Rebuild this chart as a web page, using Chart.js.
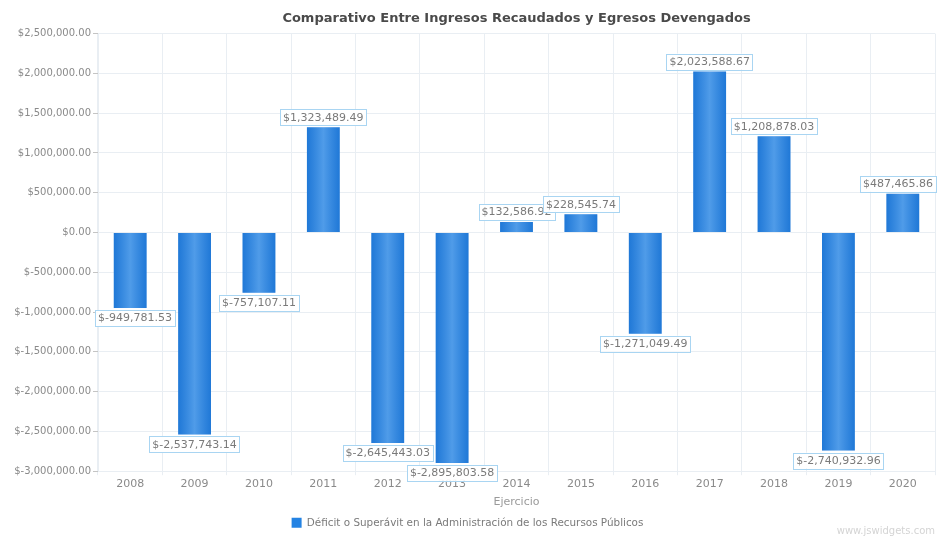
<!DOCTYPE html>
<html>
<head>
<meta charset="utf-8">
<script src="https://cdn.jsdelivr.net/npm/chart.js@4/dist/chart.umd.min.js"></script>
<style>
  html, body { margin: 0; padding: 0; background: #fff; }
  #wrap { position: relative; width: 937px; height: 538px; }
</style>
</head>
<body>
<div id="wrap"><canvas id="c"></canvas></div>
<script>
const years = ['2008', '2009', '2010', '2011', '2012', '2013', '2014', '2015', '2016', '2017', '2018', '2019', '2020'];
const balance = [-949781.53, -2537743.14, -757107.11, 1323489.49, -2645443.03, -2895803.58, 132586.92, 228545.74, -1271049.49, 2023588.67, 1208878.03, -2740932.96, 487465.86];
const seriesName = 'Déficit o Superávit en la Administración de los Recursos Públicos';
const yMin = -3000000, yMax = 2500000, yStep = 500000;

const FONT = "'DejaVu Sans', Verdana, sans-serif";
const money = v => '$' + v.toLocaleString('en-US', { minimumFractionDigits: 2, maximumFractionDigits: 2 });

// cylinder-ish shine over each bar, plus the boxed value labels
const barLabels = {
  id: 'barLabels',
  afterDatasetsDraw(chart) {
    const ctx = chart.ctx;
    const meta = chart.getDatasetMeta(0);
    ctx.save();
    meta.data.forEach(el => {
      const { x, y, base, width } = el.getProps(['x', 'y', 'base', 'width'], true);
      const left = x - width / 2, top = Math.min(y, base), h = Math.abs(base - y);
      const g = ctx.createLinearGradient(left, 0, left + width, 0);
      g.addColorStop(0, 'rgba(10,70,160,0.18)');
      g.addColorStop(0.5, 'rgba(255,255,255,0.2)');
      g.addColorStop(1, 'rgba(10,70,160,0.18)');
      ctx.fillStyle = g;
      ctx.fillRect(left, top, width, h);
    });

    ctx.font = '11px ' + FONT;
    ctx.textBaseline = 'middle';
    ctx.textAlign = 'center';
    meta.data.forEach((el, i) => {
      const v = balance[i];
      const txt = money(v);
      const w = ctx.measureText(txt).width + 6;
      const h = 16;
      let cx = el.x;
      cx = Math.max(cx, w / 2 - 3 + chart.chartArea.left);
      cx = Math.min(cx, chart.width - w / 2 - 1);
      const top = v < 0 ? el.y + 2 : el.y - 2 - h;
      ctx.fillStyle = 'rgba(255,255,255,0.95)';
      ctx.fillRect(cx - w / 2, top, w, h);
      ctx.strokeStyle = '#a9d5f2';
      ctx.lineWidth = 1;
      ctx.strokeRect(Math.round(cx - w / 2) + 0.5, Math.round(top) + 0.5, Math.round(w), h);
      ctx.fillStyle = '#7a7a7a';
      ctx.fillText(txt, cx, top + h / 2 + 0.5);
    });

    ctx.font = '10px ' + FONT;
    ctx.textAlign = 'right';
    ctx.fillStyle = '#d4d4d4';
    ctx.fillText('www.jswidgets.com', chart.width - 2, chart.height - 7);
    ctx.restore();
  }
};

new Chart(document.getElementById('c'), {
  type: 'bar',
  data: {
    labels: years,
    datasets: [{
      label: seriesName,
      data: balance,
      backgroundColor: '#2483e3',
      borderWidth: 0,
      categoryPercentage: 1,
      barPercentage: 0.51
    }]
  },
  options: {
    responsive: true,
    maintainAspectRatio: false,
    animation: false,
    layout: { padding: { left: 0, right: 2, top: 0, bottom: 0 } },
    plugins: {
      title: {
        display: true,
        fullSize: false,
        text: 'Comparativo Entre Ingresos Recaudados y Egresos Devengados',
        color: '#4a4a4a',
        font: { family: FONT, size: 13, weight: 'bold' },
        padding: { top: 11, bottom: 7 }
      },
      legend: {
        position: 'bottom',
        labels: {
          color: '#7a7a7a',
          font: { family: FONT, size: 10.4 },
          boxWidth: 10,
          boxHeight: 10,
          padding: 6
        }
      },
      tooltip: { enabled: false }
    },
    scales: {
      x: {
        grid: { color: '#e9eef3', tickLength: 4, tickColor: '#e9eef3' },
        border: { color: '#e9eef3' },
        ticks: { color: '#8a8a8a', font: { family: FONT, size: 11 }, padding: 2 },
        title: {
          display: true,
          text: 'Ejercicio',
          color: '#9a9a9a',
          font: { family: FONT, size: 11 },
          padding: { top: 3, bottom: 3 }
        }
      },
      y: {
        min: yMin,
        max: yMax,
        afterFit: s => { s.width = 98; },
        grid: { color: '#e9eef3', tickLength: 5, tickColor: '#c4c4c4' },
        border: { color: '#e9eef3' },
        ticks: {
          stepSize: yStep,
          color: '#8a8a8a',
          font: { family: FONT, size: 10 },
          padding: 2,
          callback: v => money(v)
        }
      }
    }
  },
  plugins: [barLabels]
});
</script>
</body>
</html>
